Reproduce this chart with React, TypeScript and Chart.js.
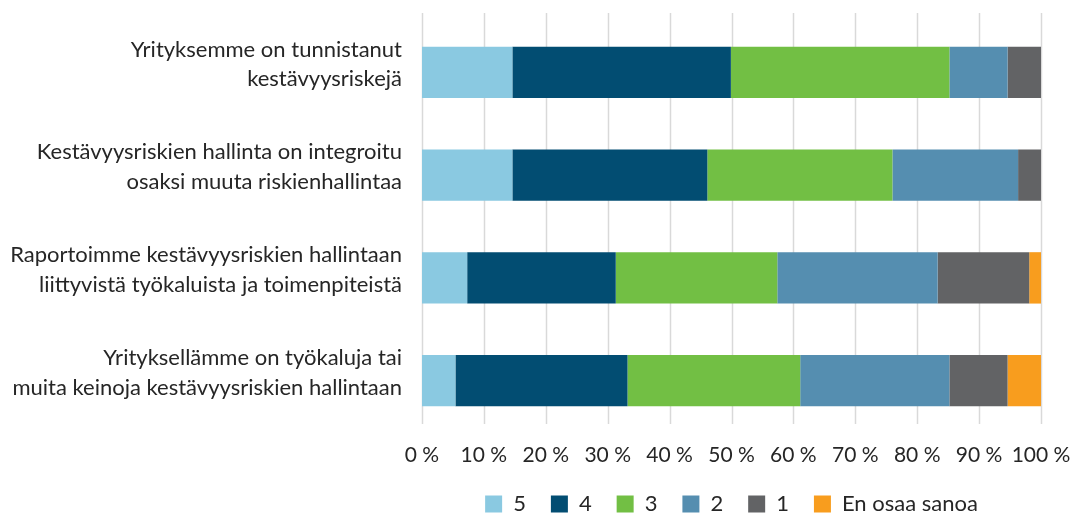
import React, { useEffect, useRef } from "react";
import { Chart, registerables } from "chart.js";

Chart.register(...registerables);

const categories: string[][] = [
  ["Yrityksemme on tunnistanut", "kestävyysriskejä"],
  ["Kestävyysriskien hallinta on integroitu", "osaksi muuta riskienhallintaa"],
  ["Raportoimme kestävyysriskien hallintaan", "liittyvistä työkaluista ja toimenpiteistä"],
  ["Yrityksellämme on työkaluja tai", "muita keinoja kestävyysriskien hallintaan"],
];

const seriesNames = ["5", "4", "3", "2", "1", "En osaa sanoa"];
const values5 = [14.6, 14.6, 7.3, 5.4];
const values4 = [35.3, 31.5, 24.0, 27.8];
const values3 = [35.3, 29.9, 26.1, 27.9];
const values2 = [9.4, 20.3, 25.9, 24.1];
const values1 = [5.4, 3.7, 14.8, 9.4];
const valuesEos = [0, 0, 1.9, 5.4];

const xTicks = [0, 10, 20, 30, 40, 50, 60, 70, 80, 90, 100];

const colors = ["#8AC9E1", "#024D72", "#72BF44", "#558EB0", "#626365", "#F89D1E"];

const FONT = "Lato, 'Open Sans', sans-serif";
const TEXT = "#262626";

const gridPlugin = {
  id: "shiftedGrid",
  beforeDatasetsDraw(chart: any) {
    const { ctx, chartArea, scales } = chart;
    const xs = scales.x;
    ctx.save();
    ctx.strokeStyle = "#D9D9D9";
    ctx.lineWidth = 1.5;
    xTicks.forEach((v) => {
      const x = Math.round(xs.getPixelForValue(v)) + 0.5;
      ctx.beginPath();
      ctx.moveTo(x, chartArea.top - 8);
      ctx.lineTo(x, chartArea.bottom - 8);
      ctx.stroke();
    });
    ctx.restore();
  },
};

export default function App() {
  const ref = useRef<HTMLCanvasElement | null>(null);

  useEffect(() => {
    if (!ref.current) return;
    const all = [values5, values4, values3, values2, values1, valuesEos];
    const chart = new Chart(ref.current, {
      type: "bar",
      data: {
        labels: categories,
        datasets: all.map((d, i) => ({
          label: seriesNames[i],
          data: d,
          backgroundColor: colors[i],
          borderWidth: 0,
          barPercentage: 0.5,
          categoryPercentage: 1,
        })),
      },
      options: {
        indexAxis: "y",
        responsive: false,
        animation: false,
        layout: { padding: { left: 0, right: 35, top: 21, bottom: -10 } },
        scales: {
          x: {
            stacked: true,
            min: 0,
            max: 100,
            afterBuildTicks: (s: any) => {
              s.ticks = xTicks.map((v) => ({ value: v }));
            },
            afterFit: (s: any) => {
              s.height = 36;
              s.paddingLeft = 0;
              s.paddingRight = 0;
            },
            grid: { display: false, drawTicks: false },
            border: { display: false },
            ticks: {
              padding: 11,
              color: TEXT,
              font: { family: FONT, size: 21 },
              callback: (v: any) => `${v} %`,
              maxRotation: 0,
            },
          },
          y: {
            stacked: true,
            afterFit: (s: any) => {
              s.width = 422;
              s.paddingTop = 0;
              s.paddingBottom = 0;
            },
            grid: { display: false, drawTicks: false },
            border: { display: false },
            ticks: {
              padding: 20,
              labelOffset: -8,
              color: TEXT,
              font: { family: FONT, size: 22, lineHeight: 1.36 },
            },
          },
        },
        plugins: {
          legend: {
            position: "bottom",
            fullSize: false,
            labels: {
              boxWidth: 17,
              boxHeight: 17,
              padding: 25,
              color: TEXT,
              font: { family: FONT, size: 22 },
            },
          },
          tooltip: { enabled: false },
        },
      },
      plugins: [gridPlugin],
    } as any);
    return () => chart.destroy();
  }, []);

  return (
    <div style={{ position: "absolute", left: 0, top: 0, width: 1076, height: 515 }}>
      <canvas ref={ref} width={1076} height={515} style={{ display: "block" }} />
    </div>
  );
}
